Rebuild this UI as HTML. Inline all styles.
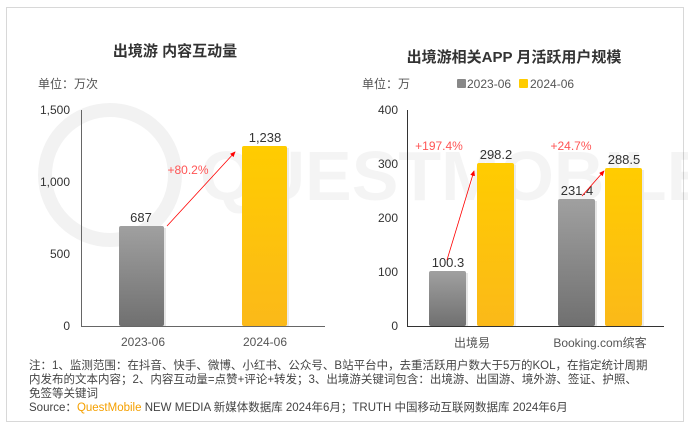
<!DOCTYPE html>
<html><head><meta charset="utf-8"><style>
body{margin:0;width:688px;height:428px;background:#fff;overflow:hidden;font-family:"Liberation Sans","Noto Sans CJK SC",sans-serif}
</style></head><body>
<svg width="688" height="428" xmlns="http://www.w3.org/2000/svg" font-family="Liberation Sans, Noto Sans CJK SC, sans-serif">
<defs>
<linearGradient id="g" x1="0" y1="0" x2="0" y2="1"><stop offset="0" stop-color="#a0a0a0"/><stop offset="1" stop-color="#707070"/></linearGradient>
<linearGradient id="y" x1="0" y1="0" x2="0" y2="1"><stop offset="0" stop-color="#ffcc00"/><stop offset="1" stop-color="#fbb919"/></linearGradient>
<marker id="ar" markerWidth="8" markerHeight="8" refX="6" refY="3" orient="auto"><path d="M0,0 L7,3 L0,6 z" fill="#f00"/></marker>
</defs>
<rect x="6.5" y="7.5" width="677" height="414" fill="#fff" stroke="#d8d8d8"/>
<!-- watermark -->
<g opacity="0.05" fill="none" stroke="#000" stroke-width="14">
<circle cx="110" cy="175" r="65"/>
</g>
<text x="200" y="200" font-size="70" fill="#000" opacity="0.04" font-weight="bold">QUESTMOBILE</text>
<!-- left chart -->
<text x="175" y="56" font-size="15" font-weight="bold" fill="#333" text-anchor="middle">出境游 内容互动量</text>
<text x="38" y="88" font-size="12" fill="#555">单位：万次</text>
<g font-size="12" fill="#333" text-anchor="end">
<text x="70" y="114">1,500</text><text x="70" y="186">1,000</text><text x="70" y="258">500</text><text x="70" y="330">0</text>
</g>
<line x1="81.5" y1="110" x2="81.5" y2="326" stroke="#666"/>
<line x1="81" y1="326.5" x2="325" y2="326.5" stroke="#666"/>
<rect x="121" y="228" width="45" height="98" fill="#e6e6e6"/>
<rect x="119" y="226" width="45" height="100" rx="2" fill="url(#g)"/>
<rect x="244" y="148" width="45" height="178" fill="#ececec"/>
<rect x="242" y="146" width="45" height="180" rx="2" fill="url(#y)"/>
<text x="141" y="222" font-size="13" fill="#333" text-anchor="middle">687</text>
<text x="265" y="142" font-size="13" fill="#333" text-anchor="middle">1,238</text>
<text x="188" y="174" font-size="12" fill="#f55" text-anchor="middle">+80.2%</text>
<line x1="167" y1="226" x2="235" y2="152" stroke="#f00" stroke-width="0.8" marker-end="url(#ar)"/>
<text x="143" y="346" font-size="12" fill="#555" text-anchor="middle">2023-06</text>
<text x="265" y="346" font-size="12" fill="#555" text-anchor="middle">2024-06</text>
<!-- right chart -->
<text x="514" y="62" font-size="15" font-weight="bold" fill="#333" text-anchor="middle">出境游相关APP 月活跃用户规模</text>
<text x="362" y="88" font-size="12" fill="#555">单位：万</text>
<rect x="457" y="79" width="9" height="9" rx="1" fill="#888"/>
<text x="467" y="88" font-size="12" fill="#555">2023-06</text>
<rect x="519" y="79" width="9" height="9" rx="1" fill="#fc0"/>
<text x="530" y="88" font-size="12" fill="#555">2024-06</text>
<g font-size="12" fill="#333" text-anchor="end">
<text x="398" y="114">400</text><text x="398" y="168">300</text><text x="398" y="222">200</text><text x="398" y="276">100</text><text x="398" y="330">0</text>
</g>
<line x1="407.5" y1="110" x2="407.5" y2="326" stroke="#333"/>
<line x1="407" y1="326.5" x2="664" y2="326.5" stroke="#333"/>
<rect x="431" y="273" width="37" height="53" fill="#e6e6e6"/>
<rect x="429" y="271" width="37" height="55" rx="2" fill="url(#g)"/>
<rect x="479" y="165" width="37" height="161" fill="#ececec"/>
<rect x="477" y="163" width="37" height="163" rx="2" fill="url(#y)"/>
<rect x="560" y="201" width="37" height="125" fill="#e6e6e6"/>
<rect x="558" y="199" width="37" height="127" rx="2" fill="url(#g)"/>
<rect x="607" y="170" width="37" height="156" fill="#ececec"/>
<rect x="605" y="168" width="37" height="158" rx="2" fill="url(#y)"/>
<g font-size="13" fill="#333" text-anchor="middle">
<text x="448" y="267">100.3</text><text x="496" y="159">298.2</text>
<text x="577" y="195">231.4</text><text x="624" y="164">288.5</text>
</g>
<text x="439" y="150" font-size="12" fill="#f55" text-anchor="middle">+197.4%</text>
<text x="571" y="150" font-size="12" fill="#f55" text-anchor="middle">+24.7%</text>
<line x1="447" y1="260" x2="474" y2="171" stroke="#f00" stroke-width="0.8" marker-end="url(#ar)"/>
<line x1="582" y1="196" x2="604" y2="171" stroke="#f00" stroke-width="0.8" marker-end="url(#ar)"/>
<text x="472" y="347" font-size="12" fill="#555" text-anchor="middle">出境易</text>
<text x="600" y="347" font-size="12" fill="#555" text-anchor="middle">Booking.com缤客</text>
<!-- footer -->
<g font-size="11.5" fill="#444">
<text x="29" y="369">注：1、监测范围：在抖音、快手、微博、小红书、公众号、B站平台中，去重活跃用户数大于5万的KOL，在指定统计周期</text>
<text x="29" y="383">内发布的文本内容；2、内容互动量=点赞+评论+转发；3、出境游关键词包含：出境游、出国游、境外游、签证、护照、</text>
<text x="29" y="397">免签等关键词</text>
<text x="29" y="411">Source：<tspan fill="#f5a000">QuestMobile</tspan> NEW MEDIA 新媒体数据库 2024年6月；TRUTH 中国移动互联网数据库 2024年6月</text>
</g>
</svg>
</body></html>
